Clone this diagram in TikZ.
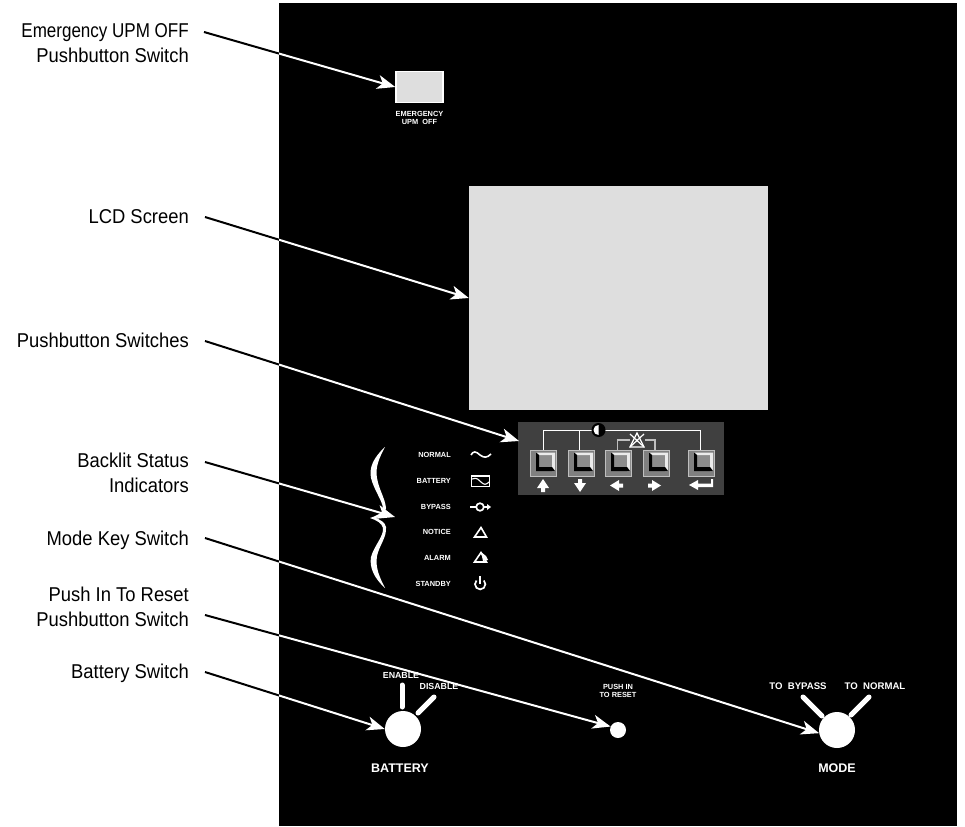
\documentclass[tikz,border=0pt]{standalone}
\usepackage{fontspec}
\usepackage{graphicx}
\setmainfont[FakeStretch=0.92]{Liberation Sans}
\newfontfamily\smallfont{Liberation Sans}
\usetikzlibrary{arrows.meta}
\definecolor{screen}{gray}{0.87}
\definecolor{padbg}{gray}{0.25}
\tikzset{
 x=1pt,y=-1pt,
 lbl/.style={font=\fontsize{20}{24.5}\selectfont,align=right,anchor=east,inner sep=0pt,text=black},
 tiny/.style={font=\smallfont\fontsize{7.4}{8}\selectfont\bfseries,text=white,inner sep=0pt},
 mid/.style={font=\smallfont\fontsize{8.8}{10}\selectfont\bfseries,text=white,inner sep=0pt},
 midw/.style={font=\smallfont\fontsize{9.6}{10}\selectfont\bfseries,text=white,inner sep=0pt},
 big/.style={font=\smallfont\fontsize{12.5}{14}\selectfont\bfseries,text=white,inner sep=0pt},
 stat/.style={tiny,anchor=east},
 icon/.style={draw=white,line width=1.6pt},
 ptr/.style={line width=2pt,-{Stealth[length=18pt,width=14pt,inset=5pt]}},
 knob/.style={circle,fill=white,inner sep=0pt,minimum size=36pt},
 tick/.style={draw=white,line width=5pt,line cap=round},
 wire/.style={draw=white,line width=1pt},
 wireg/.style={draw=white!75!black,line width=1.2pt},
 pics/keycap/.style={code={
   \fill[black!50,draw=black!25,line width=1pt] (0,0) rectangle (26,26);
   \fill[black!45] (9,5) rectangle (22,17);
   \fill[black!8] (6,2.5) -- (25,2.5) -- (25,21) -- (22,21) -- (22,5) -- (9,5) -- cycle;
   \fill[black] (6,2.5) -- (9,5) -- (9,17) -- (22,17) -- (25,21) -- (6,21) -- cycle;
 }},
}
\newcommand{\ptrline}[3]{%
 \begin{scope}\clip (0,0) rectangle (279,826);\draw[ptr,black] (#1) -- (#2);\end{scope}
 \begin{scope}\clip (279,0) rectangle (965,826);\draw[ptr,white] (#1) -- (#2);\end{scope}}
\begin{document}
\begin{tikzpicture}
\useasboundingbox (0,0) rectangle (965,826);
\fill[black] (279,3) rectangle (957,826);
% labels
\node[lbl] (l1) at (189,43) {\scalebox{.925}[1]{Emergency UPM OFF}\\Pushbutton Switch};
\node[lbl] (l2) at (189,217) {LCD Screen};
\node[lbl] (l3) at (189,340) {Pushbutton Switches};
\node[lbl] (l4) at (189,473) {Backlit Status\\Indicators};
\node[lbl] (l5) at (189,540) {Mode Key Switch};
\node[lbl] (l6) at (189,607) {Push In To Reset\\Pushbutton Switch};
\node[lbl] (l7) at (189,673) {Battery Switch};
% emergency
\node[draw=white,line width=1.5pt,fill=screen,minimum width=47pt,minimum height=31pt,inner sep=0pt] (emerg) at (419.5,87) {};
\node[tiny] (emtxt1) at (419.5,114) {EMERGENCY};
\node[tiny] (emtxt2) at (419.5,122) {UPM\ \ OFF};
% lcd
\node[fill=screen,minimum width=299pt,minimum height=224pt,inner sep=0pt] (lcd) at (618.5,298) {};
% keypad
\node[fill=padbg,minimum width=206pt,minimum height=73pt,inner sep=0pt] (keypad) at (621,458.5) {};
\coordinate (padin) at (519,441);
\draw[wire] (543,450) -- (543,430) -- (700,430) -- (700,450);
\draw[wire] (579,430) -- (579,450);
\draw[wireg] (617.5,450) -- (617.5,440) -- (630,440);
\draw[wireg] (645,440) -- (655,440) -- (655,450);
\node[circle,fill=black,minimum size=14pt,inner sep=0pt] (contrast) at (598.5,430) {};
\fill[white] (598.5,425) arc[start angle=90,delta angle=180,radius=5pt] -- cycle;
\draw[white,line width=1.2pt] (637,433) -- (630,447) -- (644,447) -- cycle;
\draw[white,line width=1.2pt] (630,434) -- (644,447) (644,434) -- (630,447);
\pic at (530,450) {keycap};
\pic at (568,450) {keycap};
\pic at (605,450) {keycap};
\pic at (643,450) {keycap};
\pic at (688,450) {keycap};
% key arrows
\fill[white] (543,479) -- (549,488) -- (545,488) -- (545,492) -- (541,492) -- (541,488) -- (537,488) -- cycle;
\fill[white] (580,492) -- (574,483) -- (578,483) -- (578,479) -- (582,479) -- (582,483) -- (586,483) -- cycle;
\fill[white] (610,485.5) -- (619,480) -- (619,483.5) -- (623,483.5) -- (623,487.5) -- (619,487.5) -- (619,491) -- cycle;
\fill[white] (661,485.5) -- (652,480) -- (652,483.5) -- (648,483.5) -- (648,487.5) -- (652,487.5) -- (652,491) -- cycle;
\fill[white] (689,485) -- (698,480) -- (698,483.5) -- (711,483.5) -- (711,479) -- (713,479) -- (713,487) -- (698,487) -- (698,490) -- cycle;
% brace
\fill[white] (385,447) .. controls (373,458) and (369,468) .. (371,478) .. controls (374,490) and (382,500) .. (383,508) .. controls (383.5,513) and (376,516) .. (370,518) .. controls (376,520) and (382,523) .. (383,528) .. controls (384,536) and (374,546) .. (371,557) .. controls (369,568) and (375,579) .. (385,588) .. controls (380,578) and (375,568) .. (377,556) .. controls (379,546) and (387,537) .. (386,527) .. controls (385,522) and (380,520) .. (376,518) .. controls (380,516) and (386,514) .. (386,508) .. controls (385,498) and (379,490) .. (377,478) .. controls (375,468) and (379,458) .. (385,447) -- cycle;
% status
\node[stat] (s1) at (451,455) {NORMAL};
\node[stat] (s2) at (451,481) {BATTERY};
\node[stat] (s3) at (451,506.5) {BYPASS};
\node[stat] (s4) at (451,532) {NOTICE};
\node[stat] (s5) at (451,558) {ALARM};
\node[stat] (s6) at (451,583.5) {STANDBY};
\draw[icon] (471,455) .. controls (473,451) and (476,451) .. (480,455) .. controls (484,458) and (487,458) .. (491,454);
\draw[icon] (471.5,476) rectangle (489.5,486.5);
\draw[white,line width=1.1pt] (472,479) .. controls (477,477) and (479,480) .. (481,482) .. controls (484,485) and (486,485) .. (489,482);
\draw[icon] (473,476) -- (473,474.5) (487,476) -- (487,474.5);
\draw[icon] (470,507) -- (476,507) (484,507) -- (489,507);
\draw[icon,line width=1.7pt] (480,507) circle[radius=3.8pt];
\fill[white] (491,507) -- (487,504) -- (487,510) -- cycle;
\draw[icon] (481,527.5) -- (474.5,537) -- (486.5,537) -- cycle;
\draw[icon] (481,552.5) -- (474.5,562) -- (486.5,562) -- cycle;
\fill[white] (481,552) -- (486,556) -- (488,560) -- (483,561) -- cycle;
\draw[icon,line width=1.7pt] (476.5,580.5) arc[start angle=135,delta angle=270,radius=5.2pt];
\draw[icon,line width=1.7pt] (480,576) -- (480,584);
% battery switch
\node[knob] (battery) at (403,729) {};
\draw[tick] (402,685) -- (402,707);
\draw[tick] (434,697) -- (418,713);
\node[mid] (enable) at (401,675) {ENABLE};
\node[mid] (disable) at (439,686) {DISABLE};
\node[big] (battxt) at (400,768) {BATTERY};
% reset
\node[circle,fill=white,inner sep=0pt,minimum size=16pt] (reset) at (618,730) {};
\node[tiny] (push1) at (618,687) {PUSH IN};
\node[tiny] (push2) at (618,695) {TO RESET};
% mode
\node[knob] (mode) at (837,730) {};
\draw[tick] (803,697) -- (822,716);
\draw[tick] (869,697) -- (851,715);
\node[midw] (tobyp) at (798,686) {TO\ \ BYPASS};
\node[midw] (tonor) at (875,686) {TO\ \ NORMAL};
\node[big] (modetxt) at (837,768) {MODE};
% pointers
\coordinate (a1) at (204,32);
\coordinate (a2) at (205,217);
\coordinate (a3) at (205,341);
\coordinate (a4) at (205,462);
\coordinate (a5) at (205,538);
\coordinate (a6) at (205,615);
\coordinate (a7) at (205,672);
\ptrline{a1}{emerg.west}{}
\ptrline{a2}{lcd.west}{}
\ptrline{a3}{padin}{}
\coordinate (b4) at (395,517);
\ptrline{a4}{b4}{}
\ptrline{a5}{mode.190}{}
\ptrline{a6}{reset.155}{}
\ptrline{a7}{battery.west}{}
\end{tikzpicture}
\end{document}
